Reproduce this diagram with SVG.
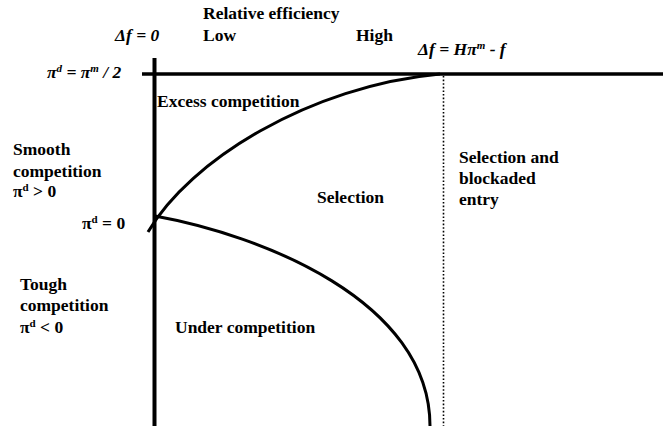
<svg xmlns="http://www.w3.org/2000/svg" width="663" height="426" viewBox="0 0 663 426">
<style>
text{font-family:"Liberation Serif","Times New Roman",serif;font-weight:bold;font-size:17.5px;fill:#000}
.it{font-style:italic}
.sup{font-size:11px}
.axis{stroke:#000;fill:none}
.curve{stroke:#000;stroke-width:3;fill:none}
.dot{stroke:#000;stroke-width:1.6;stroke-dasharray:1.6 2;fill:none}
</style>
<rect width="663" height="426" fill="#fff"/>
<g id="connectors">
<line class="axis" x1="154.5" y1="58" x2="154.5" y2="426" stroke-width="4"/>
<line class="axis" x1="142" y1="74" x2="663" y2="74" stroke-width="3.6"/>
<line class="dot" x1="443.5" y1="76" x2="443.5" y2="426"/>
<path id="upper-curve" class="curve" d="M148,232 C190,160 310,86 440,74"/>
<path id="lower-curve" class="curve" d="M155,216 C260,235 430,300 430,426"/>
</g>
<g id="header">
<text x="203" y="19">Relative efficiency</text>
<text x="115" y="41" class="it">Δf = 0</text>
<text x="203" y="41">Low</text>
<text x="356" y="41">High</text>
<text x="418" y="55" class="it">Δf = Hπ<tspan class="sup" dy="-6">m</tspan><tspan dy="6"> - f</tspan></text>
</g>
<g id="axis-labels">
<text x="47" y="78" class="it">π<tspan class="sup" dy="-6">d</tspan><tspan dy="6"> = π</tspan><tspan class="sup" dy="-6">m</tspan><tspan dy="6"> / 2</tspan></text>
<text x="82" y="229">π<tspan class="sup" dy="-6">d</tspan><tspan dy="6"> = 0</tspan></text>
</g>
<g id="smooth">
<text x="13" y="155">Smooth</text>
<text x="13" y="177">competition</text>
<text x="13" y="197">π<tspan class="sup" dy="-6">d</tspan><tspan dy="6"> &gt; 0</tspan></text>
</g>
<g id="tough">
<text x="20" y="290">Tough</text>
<text x="20" y="311">competition</text>
<text x="20" y="333">π<tspan class="sup" dy="-6">d</tspan><tspan dy="6"> &lt; 0</tspan></text>
</g>
<g id="excess">
<text x="157" y="107">Excess competition</text>
</g>
<g id="selection">
<text x="317" y="203">Selection</text>
</g>
<g id="blockaded">
<text x="459" y="163">Selection and</text>
<text x="459" y="184">blockaded</text>
<text x="459" y="205">entry</text>
</g>
<g id="under">
<text x="175" y="333">Under competition</text>
</g>
</svg>
